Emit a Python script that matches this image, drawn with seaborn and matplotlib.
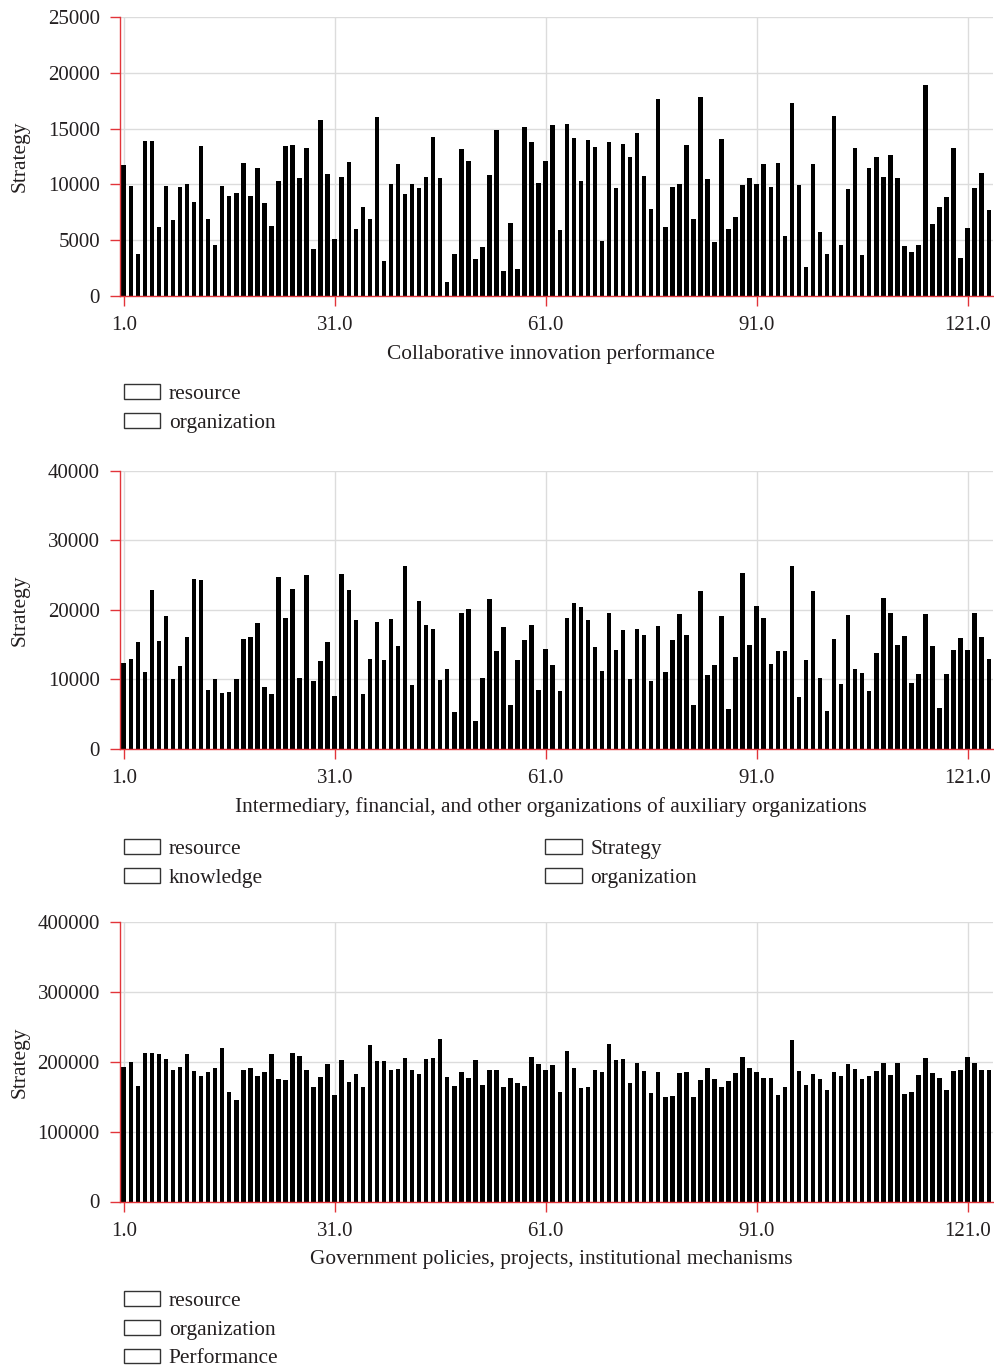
import numpy as np
import pandas as pd
import matplotlib
matplotlib.use("Agg")
import matplotlib.pyplot as plt
from matplotlib.patches import Patch
import seaborn as sns

# ---- data -------------------------------------------------------------
steps = list(range(1, 125))

collab_performance = [
    11750, 9900, 3770, 13900, 13900, 6190, 9900, 6790, 9780, 10080,
    8460, 13400, 6880, 4600, 9900, 8940, 9210, 11960, 8940, 11450,
    8370, 6280, 10320, 13400, 13550, 10550, 13300, 4190, 15760, 10970,
    5110, 10700, 12050, 6040, 7950, 6880, 16000, 3170, 10050, 11810,
    9110, 10010, 9710, 10690, 14280, 10600, 1250, 3760, 13200, 12120,
    3310, 4390, 10870, 14870, 2240, 6510, 2390, 15110, 13770, 10100,
    12120, 15290, 5910, 15380, 14180, 10270, 13950, 13380, 4930, 13770,
    9710, 13620, 12450, 14630, 10780, 7770, 17620, 6180, 9770, 10010,
    13530, 6930, 17800, 10450, 4870, 14040, 6000, 7110, 9950, 10540,
    10040, 11800, 9800, 11950, 5350, 17290, 9950, 2570, 11800, 5760,
    3760, 16130, 4600, 9620, 13290, 3670, 11470, 12480, 10690, 12600,
    10540, 4510, 3910, 4600, 18900, 6450, 7950, 8870, 13290, 3430,
    6090, 9710, 11020, 7680,
]

intermediary_orgs = [
    12400, 12930, 15380, 11050, 22790, 15530, 19130, 10000, 11870, 16060,
    24370, 24280, 8500, 10000, 7980, 8210, 10000, 15770, 16060, 18080,
    8930, 7830, 24660, 18850, 23030, 10230, 24950, 9710, 12690, 15380,
    7550, 25190, 22790, 18460, 7830, 12930, 18310, 12830, 18600, 14850,
    26300, 9180, 21300, 17790, 17260, 9860, 11490, 5280, 19520, 20050,
    4080, 10230, 21540, 14040, 17500, 6250, 12830, 15630, 17790, 8500,
    14420, 12110, 8360, 18850, 20910, 20330, 18460, 14710, 11200, 19520,
    14270, 17110, 10000, 17260, 16440, 9710, 17650, 11050, 15630, 19420,
    16440, 6340, 22640, 10660, 12020, 19130, 5810, 13220, 25340, 14950,
    20480, 18750, 12250, 14040, 14040, 26300, 7450, 12830, 22640, 10140,
    5430, 15770, 9320, 19280, 11490, 10910, 8360, 13750, 21690, 19520,
    14950, 16290, 9470, 10810, 19420, 14850, 5960, 10810, 14270, 15920,
    14270, 19520, 16060, 12930,
]

government_policies = [
    192800, 199500, 164600, 212900, 212900, 211400, 203300, 188500, 192800, 211400,
    187100, 178900, 185700, 191400, 219500, 156000, 145000, 188500, 191400, 178900,
    184700, 211400, 175100, 173600, 212900, 208600, 188500, 164100, 177900, 196600,
    152000, 201900, 171300, 181800, 163200, 224400, 200400, 200400, 188500, 190000,
    205700, 188500, 181800, 203300, 204700, 232900, 177900, 164600, 185700, 176500,
    201900, 167000, 188500, 188500, 163200, 176500, 169900, 166000, 207200, 196600,
    188500, 195100, 157000, 215200, 191400, 162200, 163600, 188500, 185700, 225800,
    201900, 203300, 169900, 198000, 187100, 155000, 184700, 150000, 151000, 183200,
    184700, 150000, 173600, 191400, 175100, 163200, 172200, 183200, 207200, 191400,
    185700, 176500, 176500, 152000, 163200, 231500, 187100, 167000, 181800, 175100,
    160000, 184700, 178900, 196600, 190000, 175100, 178900, 187100, 198000, 180400,
    198000, 154000, 157000, 180400, 204700, 183200, 176500, 160000, 186100, 188500,
    207200, 198000, 188500, 188500,
]

x_ticks = [1, 31, 61, 91, 121]
x_tick_labels = ["1.0", "31.0", "61.0", "91.0", "121.0"]

panels = [
    dict(values=collab_performance, ymax=25000, ystep=5000,
         xlabel="Collaborative innovation performance",
         legend=["resource", "organization"], ncol=1),
    dict(values=intermediary_orgs, ymax=40000, ystep=10000,
         xlabel="Intermediary, financial, and other organizations of auxiliary organizations",
         legend=["resource", "knowledge", "Strategy", "organization"], ncol=2),
    dict(values=government_policies, ymax=400000, ystep=100000,
         xlabel="Government policies, projects, institutional mechanisms",
         legend=["resource", "organization", "Performance"], ncol=1),
]

# ---- style ------------------------------------------------------------
sns.set_theme(style="white")
plt.rcParams["font.family"] = ["Liberation Serif", "DejaVu Serif"]
AXIS_RED = "#e2343a"
TEXT = "#231f20"
GRID = "#dcdcdc"
FS = 15
FS_LABEL = 15.4

W, H = 994, 1367
fig = plt.figure(figsize=(W / 100, H / 100), dpi=100)

# axes boxes in pixels: (top, bottom)
boxes = [(17, 296), (470.5, 749), (922, 1201.5)]
legend_tops = [384, 839, 1291]
AX_L, AX_R = 120, 993

for p, (top, bottom), leg_top in zip(panels, boxes, legend_tops):
    ax = fig.add_axes([AX_L / W, 1 - bottom / H, (AX_R - AX_L) / W, (bottom - top) / H])
    df = pd.DataFrame({"step": steps, "value": p["values"]})
    sns.barplot(data=df, x="step", y="value", native_scale=True, width=0.64,
                color="black", saturation=1, errorbar=None, linewidth=0, ax=ax)

    ax.set_xlim(0.47, 124.6)
    ax.set_ylim(0, p["ymax"])
    ax.set_xticks(x_ticks)
    ax.set_xticklabels(x_tick_labels)
    ax.set_yticks(np.arange(0, p["ymax"] + 1, p["ystep"]))
    ax.set_yticklabels([f"{int(v)}" for v in np.arange(0, p["ymax"] + 1, p["ystep"])])

    ax.set_axisbelow(True)
    ax.grid(True, color=GRID, linewidth=1.0)
    for side in ("top", "right"):
        ax.spines[side].set_visible(False)
    for side in ("left", "bottom"):
        ax.spines[side].set_color(AXIS_RED)
        ax.spines[side].set_linewidth(1.0)
    ax.tick_params(axis="both", which="major", direction="out", length=7.5,
                   width=1.0, color=AXIS_RED, labelcolor=TEXT, labelsize=FS,
                   left=True, bottom=True, pad=7)

    ax.set_ylabel("Strategy", fontsize=FS_LABEL, color=TEXT)
    ax.yaxis.set_label_coords(-0.103, 0.5)
    ax.set_xlabel(p["xlabel"], fontsize=FS_LABEL, color=TEXT)
    ax.xaxis.set_label_coords(0.494, -0.172)

    handles = [Patch(facecolor="white", edgecolor="#333333", linewidth=1.0)
               for _ in p["legend"]]
    fig.legend(handles, p["legend"], loc="upper left",
               bbox_to_anchor=(124 / W, 1 - leg_top / H),
               ncol=p["ncol"], frameon=False, fontsize=FS_LABEL,
               handlelength=1.7, handleheight=0.68, handletextpad=0.4,
               labelspacing=0.42, borderpad=0, borderaxespad=0,
               columnspacing=13.2, labelcolor=TEXT)

fig.savefig("out.png", dpi=100)
